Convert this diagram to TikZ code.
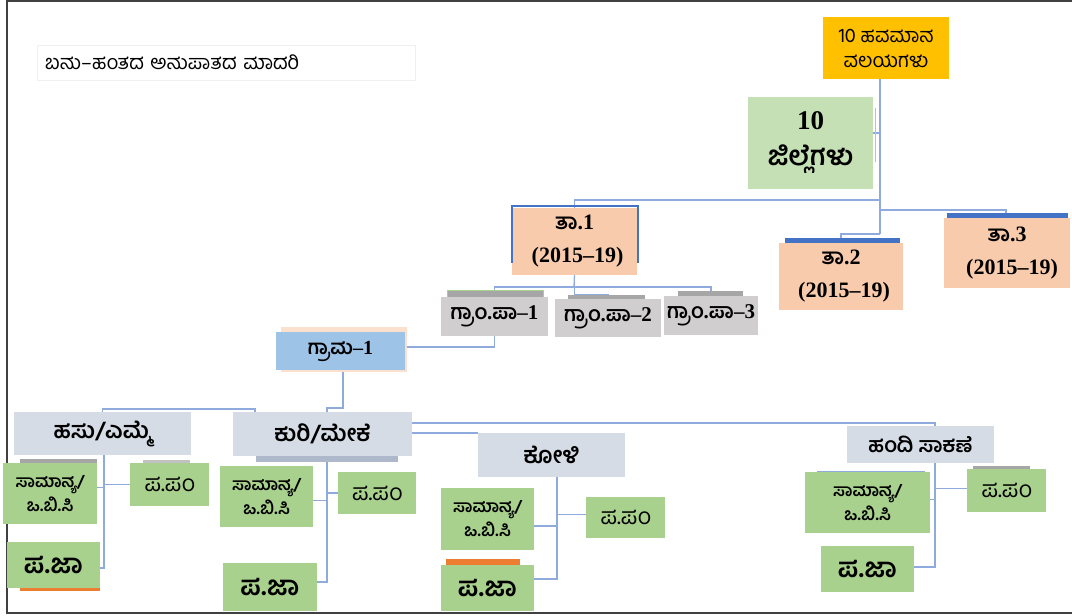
\documentclass[tikz,border=0pt]{standalone}
\usepackage{fontspec}
\setmainfont{Liberation Serif}
\newfontfamily\kn[Script=Kannada]{Hind Mysuru}
\usetikzlibrary{backgrounds}
\newcommand\K[1]{{\kn #1}}
\newcommand\bx[7]{\node[#6,anchor=north west,minimum width={(#3-#1)*1pt},minimum height={(#4-#2)*1pt}] (#5) at (#1,#2) {#7};}
\definecolor{yel}{HTML}{FFC000}
\definecolor{jgreen}{HTML}{C5E0B4}
\definecolor{peach}{HTML}{F8CBAD}
\definecolor{gpgray}{HTML}{D0CECE}
\definecolor{bargray}{HTML}{A6A6A6}
\definecolor{gblue}{HTML}{9DC3E6}
\definecolor{animal}{HTML}{D6DCE5}
\definecolor{animsh}{HTML}{ADB9CA}
\definecolor{cgreen}{HTML}{A9D18E}
\definecolor{barblue}{HTML}{4472C4}
\definecolor{linec}{HTML}{8FAADC}
\definecolor{orng}{HTML}{ED7D31}
\definecolor{framec}{HTML}{404040}
\tikzset{
  bxs/.style={inner sep=0pt,outer sep=0pt,align=center},
  conn/.style={draw=linec,line width=1.3pt},
  yelbox/.style={bxs,fill=yel,font=\fontsize{20}{25}\selectfont},
  jbox/.style={bxs,fill=jgreen,font=\fontsize{27}{36}\selectfont\bfseries},
  tabox/.style={bxs,fill=peach,font=\fontsize{22}{33}\selectfont\bfseries},
  gpbox/.style={bxs,fill=gpgray,font=\fontsize{21}{24}\selectfont\bfseries},
  grbox/.style={bxs,fill=gblue,font=\fontsize{20}{24}\selectfont\bfseries},
  anbox/.style={bxs,fill=animal,font=\fontsize{23}{26}\selectfont\bfseries},
  sambox/.style={bxs,fill=cgreen,font=\fontsize{17}{24}\selectfont\bfseries},
  ppbox/.style={bxs,fill=cgreen,font=\fontsize{23}{26}\selectfont},
  pjbox/.style={bxs,fill=cgreen,font=\fontsize{27}{30}\selectfont\bfseries},
  titlebx/.style={inner xsep=8pt,inner ysep=0pt,outer sep=0pt,fill=white,draw=black!6,align=left,text width=362pt,font=\fontsize{20}{22}\selectfont},
}
\begin{document}
\begin{tikzpicture}[x=1pt,y=-1pt]
\useasboundingbox (0,0) rectangle (1072,616);
\draw[framec,line width=2pt] (1072,1) -- (7,1) -- (7,612.5) -- (1072,612.5);

% title
\bx{37}{45}{415}{80}{title}{titlebx}{\K{ಬಹು–ಹಂತದ ಅನುಪಾತದ ಮಾದರಿ}}

% top levels
\bx{823}{17}{949}{79}{yelw}{yelbox}{\K{10 ಹವಮಾನ}\\\K{ವಲಯಗಳು}}
\bx{748}{97}{873}{189}{jille}{jbox}{10\\\K{ಜಿಲ್ಲೆಗಳು}}
\draw[black!25,line width=1pt] (875,108) -- (875,162);

\bx{512}{208}{637}{275}{ta1}{tabox}{\K{ತಾ}.1\\\hspace*{6pt}(2015–19)}
\draw[barblue,line width=2.5pt] (512,263) -- (512,206) -- (638,206) -- (638,263);
\fill[barblue] (785,238) rectangle (900,243);
\bx{779}{243}{903}{310}{ta2}{tabox}{\K{ತಾ}.2\\\hspace*{6pt}(2015–19)}
\fill[barblue] (947,213) rectangle (1068,218);
\bx{944}{218}{1070}{288}{ta3}{tabox}{\K{ತಾ}.3\\\hspace*{10pt}(2015–19)}

% gram panchayats
\filldraw[fill=bargray,draw=cgreen,line width=0.8pt] (447,290) rectangle (543,297);
\bx{441}{297}{548}{336}{gp1}{gpbox}{\K{ಗ್ರಾಂ}.\K{ಪಾ}–1}
\fill[bargray] (568,295) rectangle (645,299);
\bx{555}{299}{661}{337}{gp2}{gpbox}{\K{ಗ್ರಾಂ}.\K{ಪಾ}–2}
\fill[bargray] (678,291) rectangle (743,296);
\bx{664}{296}{758}{335}{gp3}{gpbox}{\K{ಗ್ರಾಂ}.\K{ಪಾ}–3}

% village
\fill[peach!60] (281,327) rectangle (407,372);
\bx{276}{332}{405}{370}{grama}{grbox}{\K{ಗ್ರಾಮ}–1}

% animals
\bx{14}{412}{191}{455}{hasu}{anbox}{\K{ಹಸು/ಎಮ್ಮೆ}}
\fill[animsh] (256,450) rectangle (398,462);
\bx{233}{412}{412}{456}{kuri}{anbox}{\K{ಕುರಿ/ಮೇಕೆ}}
\bx{478}{433}{625}{477}{koli}{anbox}{\K{ಕೋಳಿ}}
\bx{847}{426}{994}{463}{handi}{anbox,font=\fontsize{21}{24}\selectfont\bfseries}{\K{ಹಂದಿ ಸಾಕಣೆ}}

% hasu children
\fill[bargray] (20,459) rectangle (97,463);
\bx{3}{463}{97}{524}{hsam}{sambox}{\K{ಸಾಮಾನ್ಯ/}\\\K{ಒ.ಬಿ.ಸಿ}}
\fill[bargray!70] (143,460) rectangle (190,463);
\bx{130}{463}{209}{506}{hpp}{ppbox}{\K{ಪ.ಪಂ}}
\fill[orng] (20,586) rectangle (100,591);
\bx{7}{542}{100}{588}{hpj}{pjbox}{\K{ಪ.ಜಾ}}

% kuri children
\bx{220}{466}{313}{527}{ksam}{sambox}{\K{ಸಾಮಾನ್ಯ/}\\\K{ಒ.ಬಿ.ಸಿ}}
\bx{338}{472}{416}{514}{kpp}{ppbox}{\K{ಪ.ಪಂ}}
\bx{223}{563}{317}{611}{kpj}{pjbox}{\K{ಪ.ಜಾ}}

% koli children
\bx{441}{488}{534}{550}{osam}{sambox}{\K{ಸಾಮಾನ್ಯ/}\\\K{ಒ.ಬಿ.ಸಿ}}
\bx{586}{497}{665}{538}{opp}{ppbox}{\K{ಪ.ಪಂ}}
\fill[orng] (446,559) rectangle (520,565);
\bx{441}{565}{534}{611}{opj}{pjbox}{\K{ಪ.ಜಾ}}

% handi children
\draw[linec,line width=1pt] (817,471) -- (925,471);
\bx{805}{472}{930}{533}{dsam}{sambox}{\K{ಸಾಮಾನ್ಯ/}\\\K{ಒ.ಬಿ.ಸಿ}}
\fill[bargray] (973,466) rectangle (1030,469);
\bx{967}{469}{1046}{512}{dpp}{ppbox}{\K{ಪ.ಪಂ}}
\bx{821}{546}{914}{592}{dpj}{pjbox}{\K{ಪ.ಜಾ}}

% trunk coordinates
\coordinate (jA) at (880,200);
\coordinate (jB) at (880,210);
\coordinate (jC) at (880,234);
\coordinate (k1) at (574,287);
\coordinate (ht) at (104,0);
\coordinate (kt) at (327,0);
\coordinate (ot) at (557,0);
\coordinate (dt) at (935,0);

\begin{pgfonlayer}{background}
\draw[conn] (yelw.south -| jA) -- (jC);
\draw[conn] (jA) -| (ta1.north);
\draw[conn] (jB) -| ([xshift=-1pt]ta3.north);
\draw[conn] (jC) -| (ta2.north);
\draw[conn] ([yshift=10pt]jille.east) -- ([yshift=10pt]jille.east -| jA);
% taluk to gram panchayats
\draw[conn] (ta1.south) |- ([yshift=4pt]gp2.north) -- (gp2.north);
\draw[conn] (gp1.north) -- (gp1.north |- k1) -- (gp3.north |- k1) -- (gp3.north);
\draw[conn] (ta1.south) -- (k1);
% gp1 to village
\draw[conn] (gp1.south) |- ([yshift=4pt]grama.east);
% village to animals
\draw[conn] ([xshift=2.5pt]grama.south) |- ([xshift=4.5pt,yshift=4pt]kuri.north) -- ([xshift=4.5pt]kuri.north);
\draw[conn] (hasu.north) -- ([yshift=3pt]hasu.north) -| ([xshift=22pt]kuri.north west);
\draw[conn] (kuri.east |- koli.north west) -- (koli.north west);
\draw[conn] ([yshift=11pt]kuri.east) -| (dt |- handi.north);
% hasu
\draw[conn] (ht |- hasu.south) |- ([yshift=-3pt]hpj.east);
\draw[conn] ([yshift=6pt]hsam.east) -- ([yshift=6pt]hsam.east -| ht);
\draw[conn] (hpp.west) -- (hpp.west -| ht);
% kuri
\draw[conn] (kt |- kuri.south) |- ([yshift=5pt]kpj.east);
\draw[conn] ([yshift=-4pt]ksam.east) -- ([yshift=-4pt]ksam.east -| kt);
\draw[conn] (kpp.west) -- (kpp.west -| kt);
% koli
\draw[conn] (ot |- koli.south) |- ([yshift=9pt]opj.east);
\draw[conn] ([yshift=-7pt]osam.east) -- ([yshift=-7pt]osam.east -| ot);
\draw[conn] ([yshift=3pt]opp.west) -- ([yshift=3pt]opp.west -| ot);
% handi
\draw[conn] (dt |- handi.south) |- ([yshift=2pt]dpj.east);
\draw[conn] ([yshift=3pt]dsam.east) -- ([yshift=3pt]dsam.east -| dt);
\draw[conn] ([yshift=2pt]dpp.west) -- ([yshift=2pt]dpp.west -| dt);
\end{pgfonlayer}
\end{tikzpicture}
\end{document}
